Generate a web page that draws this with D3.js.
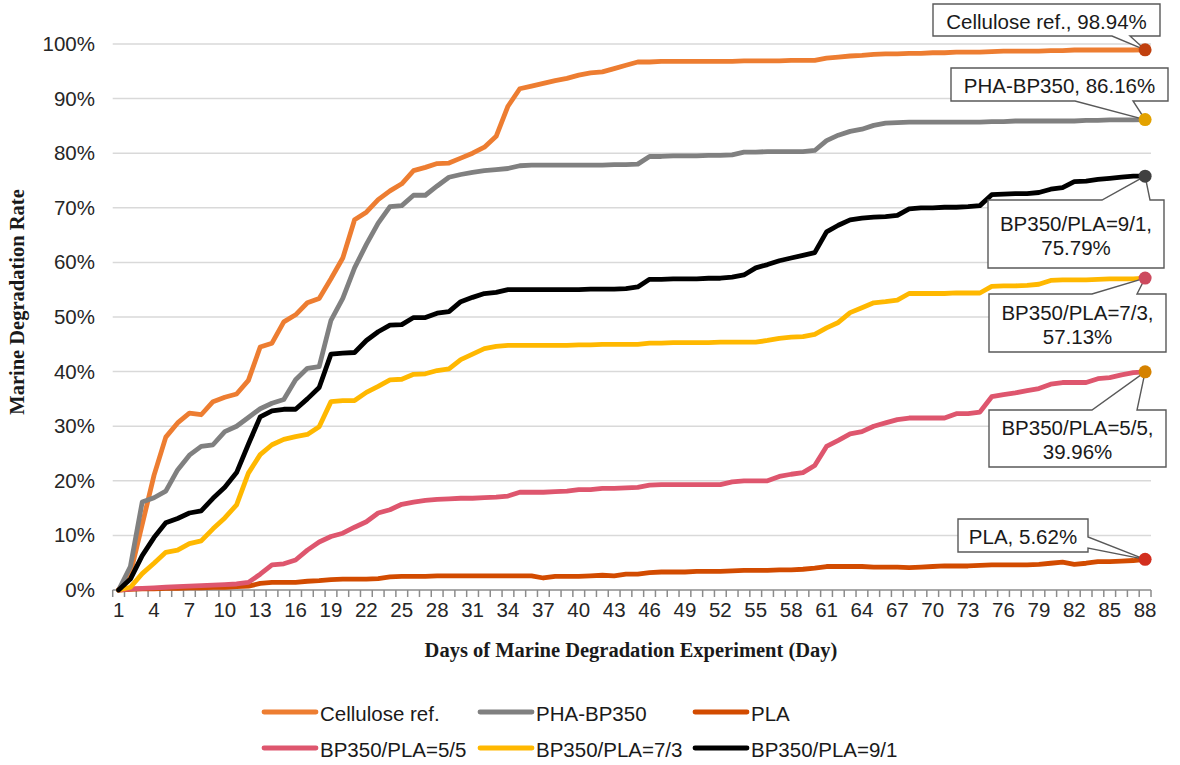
<!DOCTYPE html>
<html>
<head>
<meta charset="utf-8">
<script src="https://cdn.jsdelivr.net/npm/d3@7"></script>
<style>
  html, body { margin: 0; padding: 0; background: #fff; }
  svg { display: block; }
</style>
</head>
<body>
<svg id="chart" width="1180" height="765"></svg>
<script>
// ---------- DATA ----------
const days = d3.range(1, 89);
const xTickLabels = d3.range(1, 89, 3);
const yTicks = [0, 0.1, 0.2, 0.3, 0.4, 0.5, 0.6, 0.7, 0.8, 0.9, 1.0];
const seriesNames = ["Cellulose ref.", "PHA-BP350", "PLA", "BP350/PLA=5/5", "BP350/PLA=7/3", "BP350/PLA=9/1"];

const cellulose = [0,3,12,21,28,30.6,32.4,32.1,34.5,35.3,35.9,38.4,44.5,45.2,49.1,50.4,52.6,53.4,57.0,60.8,
  67.8,69.2,71.5,73.1,74.4,76.8,77.4,78.1,78.2,79.1,80.0,81.1,83.1,88.6,91.8,92.3,92.8,93.3,93.7,94.3,
  94.7,94.9,95.5,96.1,96.7,96.7,96.8,96.8,96.8,96.8,96.8,96.8,96.8,96.9,96.9,96.9,96.9,97.0,97.0,97.0,
  97.4,97.6,97.8,97.9,98.1,98.2,98.2,98.3,98.3,98.4,98.4,98.5,98.5,98.5,98.6,98.7,98.7,98.7,98.7,98.8,
  98.8,98.9,98.9,98.9,98.9,98.9,98.9,98.94];
const phaBP350 = [0,4.3,16.1,16.9,18.1,22.0,24.7,26.3,26.6,29.0,30.0,31.6,33.2,34.2,34.9,38.5,40.6,40.9,49.4,53.4,
  59.0,63.3,67.2,70.2,70.4,72.3,72.3,74.0,75.6,76.1,76.5,76.8,77.0,77.2,77.7,77.8,77.8,77.8,77.8,77.8,
  77.8,77.8,77.9,77.9,78.0,79.4,79.4,79.5,79.5,79.5,79.6,79.6,79.7,80.2,80.2,80.3,80.3,80.3,80.3,80.5,
  82.3,83.3,84.0,84.4,85.1,85.5,85.6,85.7,85.7,85.7,85.7,85.7,85.7,85.7,85.8,85.8,85.9,85.9,85.9,85.9,
  85.9,85.9,86.0,86.0,86.1,86.1,86.1,86.16];
const pla = [0,0.1,0.2,0.2,0.3,0.3,0.4,0.4,0.5,0.5,0.6,0.7,1.2,1.4,1.4,1.4,1.6,1.7,1.9,2.0,
  2.0,2.0,2.1,2.4,2.5,2.5,2.5,2.6,2.6,2.6,2.6,2.6,2.6,2.6,2.6,2.6,2.2,2.5,2.5,2.5,
  2.6,2.7,2.6,2.9,2.9,3.2,3.3,3.3,3.3,3.4,3.4,3.4,3.5,3.6,3.6,3.6,3.7,3.7,3.8,4.0,
  4.3,4.3,4.3,4.3,4.2,4.2,4.2,4.1,4.2,4.3,4.4,4.4,4.4,4.5,4.6,4.6,4.6,4.6,4.7,4.9,
  5.1,4.7,4.9,5.2,5.2,5.3,5.4,5.62];
const bp55 = [0,0.2,0.3,0.4,0.5,0.6,0.7,0.8,0.9,1.0,1.1,1.4,2.9,4.6,4.8,5.5,7.3,8.8,9.8,10.4,
  11.5,12.5,14.1,14.7,15.7,16.1,16.4,16.6,16.7,16.8,16.8,16.9,17.0,17.2,17.9,17.9,17.9,18.0,18.1,18.4,
  18.4,18.6,18.6,18.7,18.8,19.2,19.3,19.3,19.3,19.3,19.3,19.3,19.8,20.0,20.0,20.0,20.8,21.2,21.5,22.8,
  26.3,27.4,28.6,29.0,30.0,30.6,31.2,31.5,31.5,31.5,31.5,32.3,32.3,32.6,35.4,35.8,36.1,36.5,36.9,37.7,
  38.0,38.0,38.0,38.7,38.9,39.4,39.8,39.96];
const bp73 = [0,0.5,3.0,4.9,6.9,7.3,8.5,9.0,11.2,13.2,15.6,21.4,24.8,26.6,27.6,28.1,28.5,29.9,34.5,34.7,
  34.7,36.2,37.3,38.5,38.6,39.5,39.6,40.2,40.5,42.2,43.2,44.2,44.6,44.8,44.8,44.8,44.8,44.8,44.8,44.9,
  44.9,45.0,45.0,45.0,45.0,45.2,45.2,45.3,45.3,45.3,45.3,45.4,45.4,45.4,45.4,45.7,46.1,46.3,46.4,46.8,
  48.0,49.0,50.8,51.7,52.6,52.8,53.1,54.3,54.3,54.3,54.3,54.4,54.4,54.4,55.6,55.7,55.7,55.8,56.0,56.7,
  56.8,56.8,56.8,56.9,57.0,57.0,57.0,57.13];
const bp91 = [0,2.0,6.3,9.6,12.3,13.1,14.1,14.5,16.8,18.8,21.5,26.7,31.7,32.8,33.1,33.1,35.0,37.1,43.2,43.4,
  43.5,45.7,47.3,48.5,48.6,49.9,49.9,50.7,51.0,52.8,53.6,54.3,54.5,55.0,55.0,55.0,55.0,55.0,55.0,55.0,
  55.1,55.1,55.1,55.2,55.5,56.9,56.9,57.0,57.0,57.0,57.1,57.1,57.3,57.7,59.0,59.6,60.3,60.8,61.3,61.8,
  65.6,66.8,67.8,68.1,68.3,68.4,68.6,69.8,70.0,70.0,70.1,70.1,70.2,70.4,72.4,72.5,72.6,72.6,72.8,73.4,
  73.7,74.8,74.9,75.2,75.4,75.6,75.8,75.79];
const finalLabels = ["98.94%", "86.16%", "5.62%", "39.96%", "57.13%", "75.79%"];

// ---------- STYLE ----------
const lineColors = ["#ED7D31", "#808080", "#D24B00", "#DE566E", "#FFB800", "#000000"];
const dotColors  = ["#C0400E", "#E3A200", "#D22E1E", "#D58200", "#CC4A5E", "#404040"];
const allValues = [cellulose, phaBP350, pla, bp55, bp73, bp91];

const svg = d3.select("#chart");
const sansFont = "'Liberation Sans', Arial, sans-serif";
const serifFont = "'Liberation Serif', 'Times New Roman', serif";

const x = d3.scaleBand().domain(days).range([112.7, 1151]).paddingInner(0).paddingOuter(0);
const cx = d => x(d) + x.bandwidth() / 2;
const y = d3.scaleLinear().domain([0, 1]).range([590, 44]);

// gridlines
svg.append("g").selectAll("line").data(yTicks.slice(1)).join("line")
  .attr("x1", 112.7).attr("x2", 1151)
  .attr("y1", d => y(d)).attr("y2", d => y(d))
  .attr("stroke", "#D9D9D9").attr("stroke-width", 1.5);

// y axis labels
const yAxis = d3.axisLeft(y).tickValues(yTicks).tickFormat(d3.format(".0%")).tickSize(0).tickPadding(0);
const gy = svg.append("g").attr("transform", "translate(95,0)").call(yAxis);
gy.select(".domain").remove();
gy.selectAll("text").attr("font-family", sansFont).attr("font-size", 20.5).attr("fill", "#262626");

// x axis
const xAxis = d3.axisBottom(x).tickValues(xTickLabels).tickSize(0).tickPadding(0);
const gx = svg.append("g").attr("transform", "translate(0,590)").call(xAxis);
gx.select(".domain").remove();
gx.selectAll("text").attr("font-family", sansFont).attr("font-size", 20.5).attr("fill", "#262626")
  .attr("dy", "0.71em").attr("y", 12);
// tick marks at category boundaries
const boundaries = days.map(d => x(d)).concat([x(88) + x.bandwidth()]);
svg.append("g").selectAll("line").data(boundaries).join("line")
  .attr("x1", d => d).attr("x2", d => d).attr("y1", 590).attr("y2", 597)
  .attr("stroke", "#8C8C8C").attr("stroke-width", 1.5);
svg.append("line").attr("x1", 112.7).attr("x2", 1151).attr("y1", 590).attr("y2", 590)
  .attr("stroke", "#8C8C8C").attr("stroke-width", 1.5);

// lines
const line = d3.line().x((v, i) => cx(days[i])).y(v => y(v / 100));
svg.append("g").selectAll("path").data(allValues).join("path")
  .attr("d", d => line(d))
  .attr("fill", "none")
  .attr("stroke", (d, i) => lineColors[i])
  .attr("stroke-width", 4.8)
  .attr("stroke-linejoin", "round")
  .attr("stroke-linecap", "round");

// callouts (box geometry is layout)
const callouts = [
  { i: 0, box: [933, 4, 227, 32], side: "bottom", base: [1112, 1130], lines: ["Cellulose ref., 98.94%"] },
  { i: 1, box: [951, 68, 217, 33], side: "bottom", base: [1075, 1133], lines: ["PHA-BP350, 86.16%"] },
  { i: 5, box: [988, 200, 176, 68], side: "top", base: [1102, 1150], lines: ["BP350/PLA=9/1,", "75.79%"] },
  { i: 4, box: [989, 294, 177, 58], side: "top", base: [1092, 1137], lines: ["BP350/PLA=7/3,", "57.13%"] },
  { i: 3, box: [989, 410, 177, 57], side: "top", base: [1092, 1137], lines: ["BP350/PLA=5/5,", "39.96%"] },
  { i: 2, box: [958, 519, 130, 33], side: "right", base: [537, 548], lines: ["PLA, 5.62%"] }
];
function calloutPath(c, tx, ty) {
  const [bx, by, bw, bh] = c.box;
  const [a, b] = c.base;
  if (c.side === "bottom")
    return `M${bx},${by}H${bx + bw}V${by + bh}H${b}L${tx},${ty}L${a},${by + bh}H${bx}Z`;
  if (c.side === "top")
    return `M${bx},${by}H${a}L${tx},${ty}L${b},${by}H${bx + bw}V${by + bh}H${bx}Z`;
  return `M${bx},${by}H${bx + bw}V${a}L${tx},${ty}L${bx + bw},${b}V${by + bh}H${bx}Z`;
}
const cg = svg.append("g");
callouts.forEach(c => {
  const vals = allValues[c.i];
  const tx = cx(days[days.length - 1]);
  const ty = y(vals[vals.length - 1] / 100);
  cg.append("path").attr("d", calloutPath(c, tx, ty))
    .attr("fill", "#fff").attr("stroke", "#595959").attr("stroke-width", 1.4)
    .attr("stroke-linejoin", "miter");
  const [bx, by, bw, bh] = c.box;
  const n = c.lines.length;
  const lh = 24;
  const startY = by + bh / 2 - (n - 1) * lh / 2;
  c.lines.forEach((t, k) => {
    cg.append("text").attr("x", bx + bw / 2).attr("y", startY + k * lh + 1)
      .attr("text-anchor", "middle").attr("dominant-baseline", "central")
      .attr("font-family", sansFont).attr("font-size", 20.5).attr("fill", "#1a1a1a").text(t);
  });
});

// end markers
svg.append("g").selectAll("circle").data(allValues).join("circle")
  .attr("cx", cx(days[days.length - 1]))
  .attr("cy", d => y(d[d.length - 1] / 100))
  .attr("r", 6.5)
  .attr("fill", (d, i) => dotColors[i]);

// axis titles
svg.append("text").attr("transform", "translate(24,302) rotate(-90)")
  .attr("text-anchor", "middle").attr("font-family", serifFont).attr("font-weight", "bold")
  .attr("font-size", 20.5).attr("fill", "#1a1a1a").text("Marine Degradation Rate");
svg.append("text").attr("x", 631).attr("y", 657)
  .attr("text-anchor", "middle").attr("font-family", serifFont).attr("font-weight", "bold")
  .attr("font-size", 20.5).attr("fill", "#1a1a1a").text("Days of Marine Degradation Experiment (Day)");

// legend
const legendPos = [[262, 712], [478, 712], [693, 712], [262, 748], [478, 748], [693, 748]];
const lg = svg.append("g");
seriesNames.forEach((name, i) => {
  const [lx, ly] = legendPos[i];
  lg.append("line").attr("x1", lx + 2).attr("x2", lx + 54).attr("y1", ly).attr("y2", ly)
    .attr("stroke", lineColors[i]).attr("stroke-width", 4.8).attr("stroke-linecap", "round");
  lg.append("text").attr("x", lx + 58).attr("y", ly + 1).attr("dominant-baseline", "central")
    .attr("font-family", sansFont).attr("font-size", 20.5).attr("fill", "#1a1a1a").text(name);
});
</script>
</body>
</html>
